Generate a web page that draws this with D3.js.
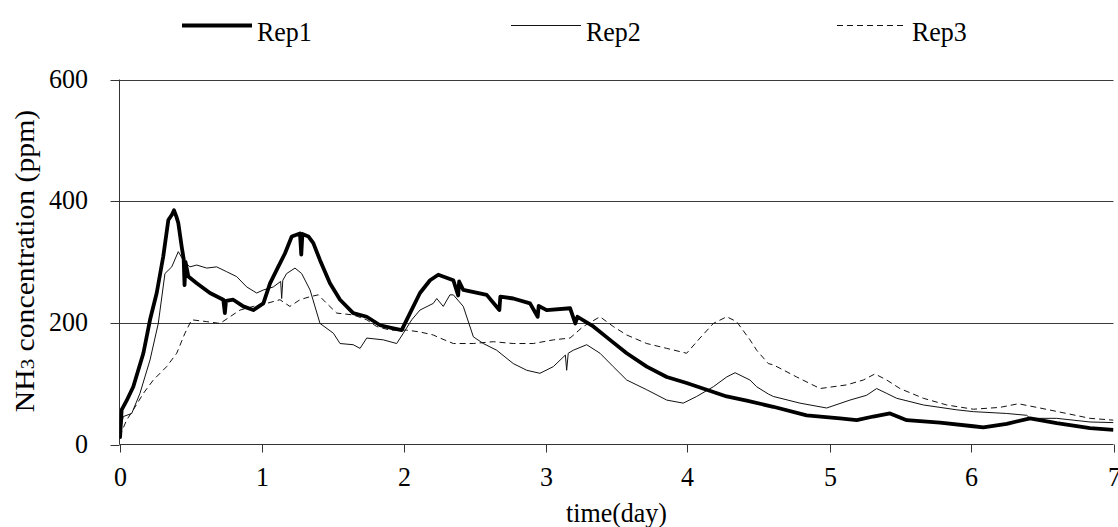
<!DOCTYPE html>
<html><head><meta charset="utf-8">
<script src="https://cdn.jsdelivr.net/npm/d3@7"></script>
<style>html,body{margin:0;padding:0;background:#fff;} svg{display:block;}</style>
</head><body><svg id="chart" width="1118" height="527"></svg>
<script>
// ---- data (day, ppm) ----
const seriesNames = ["Rep1", "Rep2", "Rep3"];
const rep1 = [[0,20],[0.004,12],[0.015,57],[0.05,72],[0.097,95],[0.168,150],[0.215,205],[0.262,249],[0.308,309],[0.344,369],[0.37,378],[0.384,385],[0.4,375],[0.414,364],[0.438,325],[0.452,305],[0.458,262],[0.465,300],[0.485,276],[0.544,265],[0.637,249],[0.731,238],[0.742,216],[0.75,236],[0.801,238],[0.872,227],[0.942,221],[1.013,232],[1.06,265],[1.107,287],[1.165,314],[1.213,342],[1.271,347],[1.28,312],[1.288,346],[1.33,342],[1.365,331],[1.412,303],[1.482,265],[1.553,238],[1.646,216],[1.741,210],[1.835,196],[1.928,191],[1.987,188],[2.046,216],[2.116,249],[2.187,270],[2.245,279],[2.351,270],[2.385,245],[2.392,268],[2.421,254],[2.586,246],[2.675,221],[2.682,243],[2.773,240],[2.891,232],[2.945,210],[2.952,228],[3.008,221],[3.173,224],[3.21,199],[3.225,210],[3.337,194],[3.454,172],[3.572,150],[3.713,128],[3.854,111],[3.994,101],[4.135,90],[4.276,79],[4.417,72],[4.604,62],[4.839,48],[5.074,43],[5.192,40],[5.308,46],[5.426,51],[5.544,40],[5.778,36],[6.013,30],[6.083,28],[6.248,34],[6.412,43],[6.6,35],[6.835,27],[7.0,24]];
const rep2 = [[0,18],[0.027,46],[0.086,51],[0.144,84],[0.215,139],[0.273,199],[0.32,281],[0.368,292],[0.414,317],[0.449,303],[0.496,292],[0.544,295],[0.614,290],[0.684,292],[0.755,284],[0.825,276],[0.896,259],[0.966,249],[1.013,254],[1.083,259],[1.135,268],[1.142,240],[1.15,270],[1.177,281],[1.236,290],[1.283,281],[1.342,254],[1.412,199],[1.506,183],[1.553,166],[1.646,164],[1.694,158],[1.741,175],[1.858,172],[1.952,166],[1.999,183],[2.058,205],[2.116,221],[2.21,232],[2.234,240],[2.28,227],[2.327,246],[2.351,246],[2.421,227],[2.492,177],[2.562,166],[2.656,155],[2.773,133],[2.868,122],[2.961,117],[3.055,128],[3.14,147],[3.149,122],[3.16,150],[3.196,155],[3.29,164],[3.384,150],[3.477,128],[3.572,106],[3.713,90],[3.854,73],[3.97,68],[4.065,79],[4.182,95],[4.276,111],[4.335,118],[4.44,106],[4.487,95],[4.569,83],[4.604,79],[4.792,68],[4.98,60],[5.144,73],[5.262,81],[5.332,92],[5.403,84],[5.473,76],[5.661,65],[5.896,57],[6.013,54],[6.248,51],[6.389,48],[6.412,43],[6.6,43],[6.835,37],[7.0,36]];
const rep3 = [[0,13],[0.05,40],[0.097,57],[0.168,84],[0.238,106],[0.332,128],[0.403,150],[0.461,183],[0.508,205],[0.614,202],[0.708,199],[0.778,210],[0.849,221],[0.942,227],[1.037,232],[1.13,238],[1.2,227],[1.271,238],[1.342,243],[1.4,246],[1.459,232],[1.53,216],[1.646,213],[1.741,205],[1.811,194],[1.905,188],[2.023,188],[2.116,185],[2.21,180],[2.257,175],[2.351,166],[2.492,166],[2.632,169],[2.773,166],[2.914,166],[3.055,172],[3.173,175],[3.266,194],[3.384,210],[3.477,194],[3.572,180],[3.713,166],[3.854,158],[3.994,150],[4.088,175],[4.182,199],[4.276,210],[4.346,202],[4.44,172],[4.487,155],[4.569,133],[4.604,131],[4.769,111],[4.933,92],[5.121,98],[5.238,106],[5.32,116],[5.403,106],[5.496,92],[5.661,76],[5.825,65],[6.013,58],[6.2,61],[6.33,67],[6.482,60],[6.67,51],[6.835,43],[7.0,40]];
const xTicks = [0, 1, 2, 3, 4, 5, 6, 7];
const yTicks = [0, 200, 400, 600];
const xTitle = "time(day)";
const yTitleMain = "NH";
const yTitleSub = "3";
const yTitleRest = " concentration (ppm)";

// ---- drawing ----
const FONT = "'Liberation Serif','Times New Roman',serif";
const FS = 26, SY = 1.08;
const svg = d3.select("#chart");
const x = d3.scaleLinear().domain([0, 7]).range([119.5, 1113.5]);
const y = d3.scaleLinear().domain([0, 600]).range([444.5, 79.5]);
const axisColor = "#333";

// gridlines
svg.append("g").selectAll("line").data(yTicks.filter(d => d > 0)).join("line")
  .attr("x1", x(0)).attr("x2", x(7))
  .attr("y1", d => Math.round(y(d)) + 0.5).attr("y2", d => Math.round(y(d)) + 0.5)
  .attr("stroke", "#3a3a3a").attr("stroke-width", 1);

// y axis
const gy = svg.append("g").attr("transform", `translate(${x(0)},0)`)
  .call(d3.axisLeft(y).tickValues(yTicks).tickSize(9).tickSizeOuter(0).offset(0)
    .tickFormat(d3.format("d")));
gy.selectAll(".tick").attr("transform", d => `translate(0,${Math.round(y(d)) + 0.5})`);
gy.select(".domain").attr("stroke", axisColor);
gy.selectAll(".tick line").attr("stroke", axisColor);
gy.selectAll(".tick text").attr("x", 0).attr("y", 0).attr("dy", 0)
  .attr("transform", `translate(-31.5,7.5) scale(1,${SY})`)
  .attr("fill", "#000").style("font-family", FONT).style("font-size", FS + "px");

// x axis
const gx = svg.append("g").attr("transform", `translate(0,${y(0)})`)
  .call(d3.axisBottom(x).tickValues(xTicks).tickSize(8).tickSizeOuter(0).offset(0)
    .tickFormat(d3.format("d")));
gx.selectAll(".tick").attr("transform", d => `translate(${Math.round(x(d)) + 0.5},0)`);
gx.select(".domain").attr("stroke", axisColor);
gx.selectAll(".tick line").attr("stroke", axisColor);
gx.selectAll(".tick text").attr("y", 0).attr("dy", 0)
  .attr("transform", `translate(0,41) scale(1,${SY})`)
  .attr("fill", "#000").style("font-family", FONT).style("font-size", FS + "px");

// axis titles
svg.append("text").attr("transform", `translate(${(x(0) + x(7)) / 2},522) scale(1,${SY})`)
  .attr("text-anchor", "middle").style("font-family", FONT).style("font-size", FS + "px")
  .text(xTitle);
const yt = svg.append("text").attr("transform", `translate(34,261) rotate(-90) scale(1.1,1)`)
  .attr("text-anchor", "middle").style("font-family", FONT).style("font-size", "27px");
yt.append("tspan").text(yTitleMain);
yt.append("tspan").style("font-size", "19px").text(yTitleSub);
yt.append("tspan").text(yTitleRest);

// series
const styles = [
  { data: rep1, width: 3.8, dash: null, color: "#000" },
  { data: rep2, width: 1, dash: null, color: "#111" },
  { data: rep3, width: 1, dash: "6,4", color: "#111" }
];
const line = d3.line().x(d => x(d[0])).y(d => y(d[1]));
const clipId = "plotclip";
svg.append("clipPath").attr("id", clipId).append("rect")
  .attr("x", x(0)).attr("y", y(600)).attr("width", x(7) - x(0)).attr("height", y(0) - y(600));
const gl = svg.append("g").attr("clip-path", `url(#${clipId})`);
[2, 1, 0].forEach(i => {
  const s = styles[i];
  gl.append("path").datum(s.data).attr("d", line).attr("fill", "none")
    .attr("stroke", s.color).attr("stroke-width", s.width)
    .attr("stroke-linejoin", "round")
    .attr("stroke-dasharray", s.dash);
});

// legend
const legendX = [182, 511, 837];
const lg = svg.append("g");
seriesNames.forEach((n, i) => {
  const s = styles[i];
  lg.append("line").attr("x1", legendX[i]).attr("x2", legendX[i] + 70)
    .attr("y1", 25.5).attr("y2", 25.5).attr("stroke", s.color)
    .attr("stroke-width", s.width).attr("stroke-dasharray", s.dash);
  lg.append("text").attr("transform", `translate(${legendX[i] + 75},41) scale(1,${SY})`)
    .style("font-family", FONT).style("font-size", FS + "px").text(n);
});
</script></body></html>
